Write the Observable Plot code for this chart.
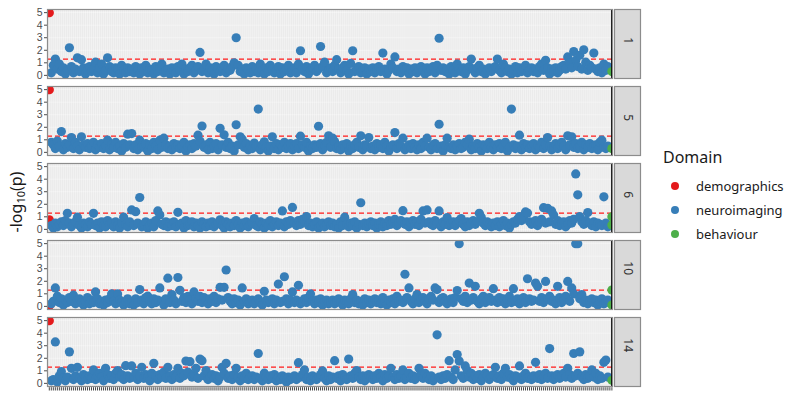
<!DOCTYPE html>
<html><head><meta charset="utf-8">
<script src="https://cdn.jsdelivr.net/npm/d3@7"></script>
<script src="https://cdn.jsdelivr.net/npm/@observablehq/plot@0.6"></script>
<style>
body{margin:0;background:#fff;font-family:"Noto Sans",sans-serif;}
#wrap{position:relative;width:800px;height:400px;overflow:hidden;}
#chart{position:absolute;left:0;top:0;}
#ytitle{position:absolute;left:5px;top:160px;width:22px;height:84px;}
#ytitle div{position:absolute;left:11px;top:42px;transform:translate(-50%,-50%) rotate(-90deg);font-size:16px;color:#1a1a1a;white-space:nowrap;line-height:18px;}
#ytitle sub{font-size:11px;vertical-align:-3px;line-height:0;}
.lt{position:absolute;left:663px;top:146px;font-size:16px;color:#1a1a1a;}
.li{position:absolute;left:671px;font-size:13px;color:#1a1a1a;display:flex;align-items:center;height:20px;}
.li span.d{display:inline-block;width:8px;height:8px;border-radius:50%;margin-right:17px;}
</style></head>
<body><div id="wrap"><div id="chart"></div><div id="ytitle"><div>-log<sub>10</sub>(p)</div></div><div id="legend"></div></div>
<script>
const facets = [1, 5, 6, 10, 14];
const domains = ["demographics", "neuroimaging", "behaviour"];
const colors = ["#E41A1C", "#377EB8", "#4DAF4A"];
const demographics = [5, 5, 0.76, 0.05, 5];
const behaviour = [[0.3], [0.3], [1.0, 0.35], [1.3, 0.1], [0.25]];
const threshold = 1.301;
const yTicks = [0, 1, 2, 3, 4, 5];

const neuro1 = [
0.2,0.8,1.3,0.5,0.9,0.3,0.6,0.1,0.4,2.2,0.7,0.2,0.5,1.4,0.3,1.25,0.6,0.1,0.4,0.7,
0.3,0.5,1.05,0.2,0.6,0.9,0.1,0.4,1.4,0.7,0.3,0.2,0.6,0.5,0.1,0.8,0.4,0.2,0.6,0.3,
0.5,0.2,0.7,0.4,0.1,0.6,0.3,0.8,0.2,0.5,0.4,0.1,0.7,0.3,0.6,0.9,0.2,0.4,0.5,0.1,
0.6,0.3,0.2,0.7,0.4,0.9,0.1,0.5,0.3,0.6,0.8,0.2,0.4,0.7,1.83,0.3,0.5,0.9,0.2,0.6,
0.4,0.1,0.7,0.5,0.3,0.6,0.8,0.2,0.5,0.4,0.7,1.0,3.0,0.8,0.3,0.5,0.1,0.6,0.4,0.2,
0.7,0.3,0.5,0.2,0.9,0.4,0.1,0.6,0.3,0.8,0.5,0.2,0.4,0.7,0.1,0.6,0.3,0.5,0.8,0.2,
0.4,0.6,0.2,0.9,1.96,0.5,0.3,0.7,0.1,0.4,0.6,0.8,0.3,0.5,2.3,0.7,1.05,0.2,0.4,0.6,
0.3,0.8,1.25,0.5,0.2,0.6,0.8,0.4,0.1,0.95,1.96,0.3,0.5,0.7,0.2,0.4,0.6,0.1,0.5,0.3,
0.6,0.2,0.4,0.7,0.3,1.78,0.5,0.1,0.4,0.9,0.6,1.47,0.3,0.5,0.2,0.7,0.4,0.6,0.1,0.5,
0.3,0.6,0.2,0.5,0.7,0.4,0.1,0.6,0.3,0.5,0.7,0.2,0.8,2.96,0.4,0.6,0.3,0.5,0.1,0.7,
0.4,0.2,0.9,0.5,0.3,0.6,0.1,0.4,0.7,1.3,0.5,0.2,0.6,0.8,0.3,0.5,0.1,0.4,0.6,0.3,
0.5,0.7,1.3,0.4,0.2,0.9,0.6,0.3,0.5,0.1,0.4,0.7,0.2,0.6,0.3,0.5,0.8,0.2,0.4,0.6,
0.3,0.5,0.2,0.7,0.9,0.4,1.2,0.6,0.1,0.5,0.3,0.6,0.2,0.4,0.7,0.8,0.5,1.47,1.0,0.6,
1.9,1.2,0.7,1.6,0.5,2.04,1.05,0.4,0.8,0.6,1.78,0.5,0.3,0.6,0.2,0.9,0.4,0.7];

const neuro5 = [
0.8,0.6,0.3,0.9,0.5,1.66,0.2,0.7,0.4,0.6,1.18,0.3,0.8,0.5,0.2,1.24,0.6,0.4,0.7,0.3,
0.5,0.8,0.2,0.6,0.4,0.7,0.3,0.5,0.97,0.2,0.6,0.4,0.8,0.3,0.5,0.1,0.7,0.4,1.45,0.6,
1.5,0.3,0.6,0.2,0.97,0.5,0.4,0.7,0.1,0.6,0.3,0.8,0.5,0.2,0.97,0.4,1.13,0.6,0.3,0.5,
0.2,0.7,0.4,0.6,0.3,0.5,0.8,0.1,0.4,0.6,0.3,0.7,0.5,1.37,0.9,2.1,0.4,0.6,0.2,0.8,
0.3,0.5,0.7,0.2,1.92,0.6,1.4,0.4,0.8,0.3,0.5,0.1,2.2,0.6,1.24,1.05,0.4,0.7,0.2,0.5,
0.3,0.74,0.5,3.45,0.2,0.6,0.84,0.4,0.1,0.5,1.24,0.3,0.7,0.2,0.6,0.4,0.8,0.3,0.5,0.7,
0.2,0.5,0.7,0.3,1.29,0.6,0.4,0.8,0.1,0.5,0.3,0.6,0.4,2.08,0.7,0.2,0.5,0.8,1.32,0.4,
1.13,0.87,0.3,0.5,0.2,0.6,0.4,0.7,0.1,0.5,0.3,0.6,0.8,0.4,1.32,0.2,0.6,0.5,1.18,0.3,
0.5,0.2,0.7,0.4,0.6,0.3,0.8,0.5,0.1,0.4,0.6,1.58,0.3,0.7,0.5,1.13,0.2,0.4,0.6,0.3,
0.7,0.4,0.2,0.6,0.3,0.8,0.5,1.13,0.4,0.2,0.6,0.7,0.3,2.24,0.5,0.1,0.6,1.13,0.4,0.3,
0.6,0.2,0.5,0.7,0.3,0.4,0.8,0.6,1.05,0.2,0.5,0.3,0.7,0.4,0.1,0.6,0.5,0.3,0.8,0.4,
0.2,0.6,0.4,0.7,0.3,0.5,0.8,0.1,0.4,3.45,0.6,0.3,0.5,1.37,0.2,0.7,0.4,0.6,0.3,0.5,
0.7,0.2,0.5,0.4,0.8,0.3,0.6,1.18,0.5,0.2,0.4,0.7,0.3,0.6,0.8,0.5,0.2,1.32,0.6,1.24,
0.4,0.7,0.3,0.5,0.8,0.2,0.6,0.4,0.7,0.3,0.5,0.6,0.2,0.8,0.97,0.4,0.3,0.5];

const neuro6 = [
0.3,0.1,0.5,0.2,0.4,0.6,0.3,0.7,1.28,0.5,0.2,0.4,0.6,0.97,0.3,0.1,0.5,0.4,0.2,0.6,
0.4,1.28,0.3,0.5,0.1,0.6,0.3,0.2,0.7,0.4,0.5,0.2,0.6,0.3,0.1,0.5,0.97,0.4,0.2,0.6,
1.55,0.3,1.41,0.5,2.54,0.2,0.4,0.6,0.1,0.3,0.5,0.2,0.7,1.47,1.15,0.4,0.3,0.6,0.2,0.5,
0.3,0.6,0.2,1.36,0.4,0.5,0.1,0.7,0.3,0.4,0.6,0.2,0.5,0.3,0.1,0.6,0.4,0.2,0.5,0.3,
0.6,0.2,0.4,0.5,0.76,0.3,0.1,0.6,0.4,0.2,0.5,0.3,0.7,0.4,0.1,0.5,0.3,0.6,0.2,0.4,
0.5,0.86,0.3,0.2,0.6,0.4,0.1,0.5,0.3,0.7,0.2,0.4,0.6,0.3,0.5,1.47,0.2,0.6,0.4,0.7,
1.75,0.5,0.3,0.7,0.4,0.8,0.6,1.02,0.3,0.5,0.2,0.4,0.6,0.1,0.3,0.5,0.2,0.4,0.6,0.3,
0.5,0.2,0.4,0.1,0.6,0.3,0.97,0.4,0.2,0.5,0.3,0.6,0.1,0.4,2.12,0.3,0.5,0.2,0.4,0.6,
0.3,0.5,0.1,0.4,0.6,0.2,0.5,0.3,0.7,0.4,0.6,0.8,0.3,0.5,0.7,1.49,0.4,0.6,0.2,0.5,
0.7,0.4,0.6,0.3,0.8,1.47,0.5,1.55,0.6,0.4,0.3,0.7,0.5,1.47,0.2,0.6,0.4,0.94,0.3,0.5,
0.6,0.3,0.5,0.7,0.86,0.4,0.2,0.6,0.3,0.5,0.7,0.4,0.6,1.28,0.97,0.5,0.3,0.6,0.4,0.2,
0.5,0.3,0.6,0.2,0.4,0.7,0.3,0.5,0.1,0.4,0.6,0.5,0.8,1.02,0.7,0.9,1.39,1.3,0.6,0.4,
0.5,0.7,0.3,0.6,0.8,1.73,0.5,1.68,0.6,1.47,1.15,0.4,0.7,0.3,0.5,0.6,0.2,0.4,0.7,0.5,
0.8,4.42,2.75,1.02,0.6,0.4,0.7,1.34,0.5,0.3,0.6,0.2,0.5,0.4,0.3,2.59,0.5,0.2];

const neuro10 = [
0.2,0.4,1.47,0.81,0.3,0.6,0.1,0.5,0.3,0.7,0.4,0.89,0.2,0.5,0.6,0.3,0.1,0.4,0.7,0.2,
0.5,0.3,1.15,0.6,0.2,0.4,0.1,0.5,0.3,0.6,0.99,0.4,0.2,0.99,0.5,0.3,0.1,0.4,0.6,0.2,
0.4,0.1,0.6,0.3,1.34,0.5,0.2,0.7,0.81,0.4,0.2,0.6,0.3,0.5,1.47,0.4,0.1,0.6,2.25,0.3,
0.94,0.5,0.2,2.3,1.28,0.4,0.7,0.3,0.8,0.5,0.2,1.15,0.6,0.4,0.8,0.3,0.7,0.5,0.2,0.6,
0.4,0.8,0.3,0.6,1.52,0.5,1.52,2.9,0.7,0.4,0.2,0.6,0.3,0.5,0.1,1.47,0.4,0.6,0.2,0.3,
0.5,0.2,0.4,0.6,0.3,0.1,1.2,0.5,0.3,0.4,0.6,0.2,0.5,1.78,0.3,0.4,2.36,0.6,0.2,0.5,
1.15,0.3,0.5,1.68,0.2,0.4,0.6,0.3,0.7,0.99,0.4,0.2,0.5,0.3,0.6,0.1,0.4,0.5,0.2,0.3,
0.5,0.2,0.4,0.6,0.3,0.1,0.5,0.4,0.2,0.6,0.94,0.3,0.5,0.2,0.4,0.1,0.6,0.3,0.5,0.2,
0.4,0.6,0.3,0.5,0.2,0.7,0.4,0.1,0.5,0.3,0.6,0.2,0.8,0.4,0.5,0.3,2.56,0.7,1.47,0.4,
0.2,0.6,0.94,0.3,0.5,0.7,0.4,0.2,0.6,0.8,0.5,1.47,1.34,0.3,0.6,0.7,0.4,0.2,0.5,0.6,
0.3,0.7,1.26,5.0,0.6,0.4,0.8,0.3,1.86,0.5,0.7,1.6,0.4,0.2,0.6,0.8,0.3,0.5,0.7,0.4,
1.41,0.5,0.3,0.7,0.4,0.6,0.2,0.5,0.8,0.3,1.41,0.4,0.6,0.2,0.5,0.7,0.3,2.2,0.6,0.4,
0.5,1.86,1.6,0.4,0.7,0.3,1.99,0.6,0.8,0.4,0.5,0.2,1.6,0.7,0.3,0.5,0.8,1.99,0.4,1.47,
0.99,5.0,5.0,0.6,0.94,0.3,0.5,0.2,0.4,0.6,0.3,0.5,0.1,0.4,0.6,0.2,0.3,0.5];

const neuro14 = [
0.2,0.3,3.3,0.1,0.6,0.94,0.4,0.2,0.5,2.51,1.2,0.3,0.6,1.28,0.4,0.2,0.7,0.5,0.3,0.6,
0.4,1.07,0.3,0.6,0.8,0.5,0.2,1.2,0.7,0.4,0.6,0.3,0.8,1.02,0.5,0.7,0.3,1.41,0.6,0.4,
1.39,0.5,0.8,0.3,0.6,1.28,0.4,0.7,0.5,0.2,0.8,1.6,0.6,0.3,0.7,0.5,0.9,0.4,1.28,0.6,
0.3,0.7,0.5,1.2,0.4,0.8,0.6,1.78,0.9,1.73,0.5,0.7,1.2,0.4,1.94,1.81,0.6,1.02,0.3,0.5,
0.7,0.4,0.6,0.2,0.5,1.28,0.8,1.6,0.4,0.6,0.3,0.7,1.2,0.5,0.2,0.6,0.4,0.8,0.3,0.5,
0.6,0.3,0.5,2.38,0.4,0.2,0.81,0.5,0.3,0.6,0.4,0.7,0.2,0.5,0.3,0.6,0.4,0.1,0.5,0.3,
0.4,0.6,0.3,1.65,0.5,0.7,1.07,0.3,0.5,0.2,0.6,0.4,0.3,0.5,0.7,0.99,0.4,0.2,0.6,0.3,
0.5,1.81,0.4,0.6,0.2,0.7,0.5,0.3,1.94,0.6,0.4,0.8,1.02,0.5,0.3,0.6,0.2,0.4,0.7,0.5,
0.3,0.6,0.4,0.8,0.5,0.2,0.7,0.4,0.6,1.2,0.5,0.3,0.7,0.4,0.6,1.07,0.3,0.5,0.8,0.4,
0.6,0.3,0.5,1.2,0.7,0.4,0.8,0.5,0.3,0.6,0.2,0.4,3.87,0.5,0.3,0.6,0.4,0.7,1.81,0.5,
0.3,1.07,2.3,1.78,0.6,0.4,1.39,1.02,0.5,0.8,0.3,0.6,0.4,0.7,0.2,0.5,0.8,0.6,0.3,0.5,
0.7,1.28,0.4,0.6,0.3,0.8,1.2,0.5,0.7,0.4,0.2,0.6,0.5,1.39,0.3,0.6,0.8,0.4,0.5,0.3,
0.6,1.68,0.4,0.7,0.3,0.5,0.8,0.4,2.77,0.6,0.3,0.5,0.7,0.4,0.6,0.8,0.5,1.2,0.7,0.4,
2.38,0.6,0.8,2.51,0.5,0.3,0.7,0.4,0.6,1.07,0.5,0.8,0.3,0.6,0.4,1.68,1.86,0.5];

const neuroByFacet = [neuro1, neuro5, neuro6, neuro10, neuro14];
const behaviourPos = 280;
const xTicks = d3.range(0, behaviourPos + 1);

// assemble table
const rows = [];
facets.forEach((f, k) => {
  rows.push({facet: f, i: 0, v: demographics[k], domain: "demographics"});
  neuroByFacet[k].forEach((v, j) => rows.push({facet: f, i: j + 1, v, domain: "neuroimaging"}));
  behaviour[k].forEach(v => rows.push({facet: f, i: behaviourPos, v, domain: "behaviour"}));
});
const order = d => domains.indexOf(d.domain);
rows.sort((a, b) => order(a) - order(b));

const H = 400, MT = 8, MB = 13, PAD = 0.1;
const band = (H - MT - MB) / (facets.length - PAD) * (1 - PAD);
const lastFacet = facets[facets.length - 1];

const chart = Plot.plot({
  width: 800,
  height: H,
  marginLeft: 47,
  marginRight: 188,
  marginTop: MT,
  marginBottom: MB,
  style: {fontFamily: "Noto Sans, sans-serif", fontSize: "12px", background: "white"},
  x: {domain: [-0.9, behaviourPos + 0.3], axis: null},
  y: {domain: [-0.25, 5.25]},
  fy: {domain: facets, axis: null, paddingInner: PAD, paddingOuter: 0},
  color: {domain: domains, range: colors},
  marks: [
    Plot.frame({fill: "#ebebeb", stroke: null}),
    Plot.ruleX(xTicks, {x: d => d, stroke: "white", strokeWidth: 0.5, strokeOpacity: 0.7}),
    Plot.ruleY(yTicks, {y: d => d, stroke: "white", strokeWidth: 0.6, strokeOpacity: 0.6}),
    Plot.ruleY([threshold], {y: d => d, stroke: "#ff1a1a", strokeWidth: 1.3, strokeDasharray: "5,3"}),
    Plot.dot(rows, {x: "i", y: "v", fy: "facet", fill: "domain", r: 4.6, stroke: null, clip: true}),
    Plot.ruleX([behaviourPos], {x: d => d, stroke: "black", strokeWidth: 1.6}),
    Plot.frame({stroke: "#8c8c8c", strokeWidth: 1.2}),
    Plot.frame({fill: "#d9d9d9", stroke: "#8c8c8c", strokeWidth: 1.2, insetLeft: 567, insetRight: -28}),
    Plot.text(facets, {fy: d => d, text: d => String(d), frameAnchor: "right", dx: 15, rotate: 90, fontSize: 12, fill: "#333"}),
    Plot.axisY({ticks: yTicks, tickFormat: d3.format("d"), tickSize: 3, tickPadding: 2, fontSize: 10.5, fontFamily: "Liberation Sans, sans-serif", color: "#4d4d4d", label: null}),
    // x tick marks under the bottom panel only (no labels)
    Plot.tickX(xTicks, {x: d => d, fy: () => lastFacet, insetTop: band + 0.6, insetBottom: -4.5, stroke: "#333", strokeWidth: 0.9})
  ]
});
document.getElementById("chart").appendChild(chart);

// legend
const lg = document.getElementById("legend");
const t = document.createElement("div");
t.className = "lt"; t.textContent = "Domain";
lg.appendChild(t);
domains.forEach((d, k) => {
  const it = document.createElement("div");
  it.className = "li";
  it.style.top = (176 + k * 24) + "px";
  it.innerHTML = `<span class="d" style="background:${colors[k]}"></span>${d}`;
  lg.appendChild(it);
});
</script>
</body></html>
